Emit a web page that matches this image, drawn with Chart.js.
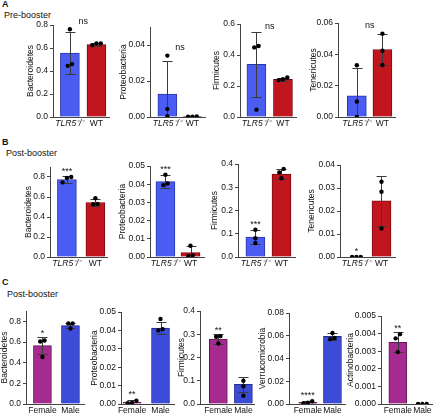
<!DOCTYPE html>
<html>
<head>
<meta charset="utf-8">
<script src="https://cdn.jsdelivr.net/npm/chart.js"></script>
<style>
body { margin:0; background:#fff; width:440px; height:415px; position:relative; overflow:hidden; font-family:"Liberation Sans", Arial, sans-serif; }
.txt { position:absolute; font-size:9px; color:#111; white-space:nowrap; }
.big { font-weight:bold; }
canvas { position:absolute; }
</style>
</head>
<body>
<div class="txt big" style="left:2px;top:-1px">A</div>
<div class="txt" style="left:4px;top:10px">Pre-booster</div>
<div class="txt big" style="left:2px;top:137px">B</div>
<div class="txt" style="left:6px;top:148px">Post-booster</div>
<div class="txt big" style="left:2px;top:277px">C</div>
<div class="txt" style="left:7px;top:289px">Post-booster</div>

<script>
// groups
var groupsAB = ['TLR5\u207B/\u207B', 'WT'];
var groupsC = ['Female', 'Male'];

// A - pre-booster
var rowA_taxa = ['Bacteroidetes', 'Proteobacteria', 'Firmicutes', 'Tenericutes'];
var rowA_means = [[0.555, 0.63], [0.0128, 0.0002], [0.34, 0.243], [0.0135, 0.0431]];
var rowA_sd = [[0.18, 0.01], [0.0185, 0.0002], [0.21, 0.01], [0.0175, 0.0100]];
var rowA_pts = [
    [[0.445, 0.763, 0.46], [0.64, 0.625, 0.64]],
    [[0.0341, 0.0044, 0.0004], [0.0003, 0.0002, 0.0002]],
    [[0.458, 0.449, 0.0475], [0.255, 0.238, 0.244]],
    [[0.033, 0.0099, 0.0], [0.0532, 0.0423, 0.0332]]
];
var rowA_max = [0.8, 0.05, 0.6, 0.06];
var rowA_step = [0.2, 0.02, 0.2, 0.02];
var rowA_sig = ['ns', 'ns', 'ns', 'ns'];

// B - post-booster
var rowB_taxa = ['Bacteroidetes', 'Proteobacteria', 'Firmicutes', 'Tenericutes'];
var rowB_means = [[0.775, 0.545], [0.0414, 0.0024], [0.0857, 0.357], [0, 0.0244]];
var rowB_sd = [[0.033, 0.035], [0.0036, 0.0035], [0.03, 0.02], [0, 0.011]];
var rowB_pts = [
    [[0.8, 0.79, 0.746], [0.588, 0.531, 0.528]],
    [[0.0452, 0.0404, 0.0395], [0.0062, 0.0009, 0.0004]],
    [[0.117, 0.081, 0.06], [0.379, 0.364, 0.339]],
    [[0, 0, 0], [0.0327, 0.0284, 0.0124]]
];
var rowB_max = [0.9, 0.05, 0.4, 0.04];
var rowB_step = [0.2, 0.01, 0.1, 0.01];
var rowB_sig = ['***', '***', '***', '*'];

// C - post-booster, female vs male
var rowC_taxa = ['Bacteroidetes', 'Proteobacteria', 'Firmicutes', 'Verrucomicrobia', 'Actinobacteria'];
var rowC_means = [[0.565, 0.758], [0.0011, 0.0413], [0.279, 0.085], [0.0015, 0.0594], [0.00351, 0]];
var rowC_sd = [[0.08, 0.025], [0.0011, 0.0031], [0.021, 0.033], [0.0012, 0.003], [0.00056, 0]];
var rowC_pts = [
    [[0.615, 0.605, 0.455], [0.78, 0.78, 0.73]],
    [[0.0018, 0.0007, 0.0004], [0.0462, 0.0407, 0.04]],
    [[0.289, 0.292, 0.26], [0.1, 0.076, 0.036]],
    [[0.0024, 0.0012, 0.0006], [0.0624, 0.058, 0.057]],
    [[0.00397, 0.00373, 0.00295], [0, 0, 0]]
];
var rowC_max = [0.9, 0.05, 0.4, 0.08, 0.005];
var rowC_step = [0.2, 0.01, 0.1, 0.02, 0.001];
var rowC_sig = ['*', '**', '**', '****', '**'];

// page layout of each panel (pixels)
var rowA_box = [
    {axis:53, c0:70.5, c1:98, right:111, top:25, titleX:31},
    {axis:150, c0:168, c1:194, right:207, top:27, titleX:124},
    {axis:240, c0:257, c1:284.5, right:298, top:24, titleX:217},
    {axis:338, c0:357.5, c1:384, right:397, top:23, titleX:314}
];
var rowB_box = [
    {axis:50, c0:67.5, c1:97, right:109, top:167, titleX:29},
    {axis:150, c0:166, c1:192, right:206, top:166, titleX:123},
    {axis:238, c0:256, c1:283, right:297, top:164, titleX:215},
    {axis:340, c0:357, c1:383, right:397, top:165, titleX:312}
];
var rowC_box = [
    {axis:26, c0:43, c1:72, right:86, top:311, titleX:5},
    {axis:121, c0:132.5, c1:162, right:176, top:312, titleX:95},
    {axis:200, c0:219, c1:245, right:256, top:311, titleX:182},
    {axis:289, c0:308.5, c1:334, right:347, top:313, titleX:263},
    {axis:381, c0:398.5, c1:424, right:434, top:316, titleX:351}
];

var FONT = '"Liberation Sans", Arial, sans-serif';
var AXIS = '#444';
var PAD_TOP = 14, X_H = 14, DOT = 2.2;

// error bars (mean +/- sd), drawn right after the bars
var errPlugin = {
    id: 'errbars',
    afterDatasetDraw: function(chart, args, o) {
        if (args.index !== 0) return;
        var xs = chart.scales.x, ys = chart.scales.y, ctx = chart.ctx, a = chart.chartArea;
        ctx.save();
        ctx.beginPath();
        ctx.rect(a.left, a.top - 3, a.right - a.left, a.bottom - a.top + 3);
        ctx.clip();
        ctx.strokeStyle = '#3a3a3a';
        ctx.lineWidth = 1;
        for (var i = 0; i < o.means.length; i++) {
            if (!o.sd[i]) continue;
            var x = Math.round(xs.getPixelForValue(i)) + 0.5;
            var hi = Math.round(ys.getPixelForValue(o.means[i] + o.sd[i])) + 0.5;
            var lo = Math.round(ys.getPixelForValue(o.means[i] - o.sd[i])) + 0.5;
            ctx.beginPath();
            ctx.moveTo(x, hi); ctx.lineTo(x, lo);
            ctx.moveTo(x - 5, hi); ctx.lineTo(x + 5, hi);
            ctx.moveTo(x - 5, lo); ctx.lineTo(x + 5, lo);
            ctx.stroke();
        }
        ctx.restore();
    }
};

// significance marks ("ns" between groups, stars over the first group)
var sigPlugin = {
    id: 'sig',
    afterDraw: function(chart, args, o) {
        if (!o.text) return;
        var xs = chart.scales.x, ys = chart.scales.y, ctx = chart.ctx;
        var ns = o.text === 'ns';
        var groups = ns ? [0, 1] : [0];
        var topPx = Infinity;
        groups.forEach(function(g) {
            topPx = Math.min(topPx, ys.getPixelForValue(o.means[g] + o.sd[g]));
            o.pts[g].forEach(function(v) { topPx = Math.min(topPx, ys.getPixelForValue(v) - DOT); });
        });
        var x = ns ? (xs.getPixelForValue(0) + xs.getPixelForValue(1)) / 2 : xs.getPixelForValue(0);
        ctx.save();
        ctx.fillStyle = '#111';
        ctx.font = '9px ' + FONT;
        ctx.textAlign = 'center';
        ctx.textBaseline = 'alphabetic';
        ctx.fillText(o.text, x, ns ? topPx - 3 : topPx - 1);
        ctx.restore();
    }
};

// spread dots that would overlap side by side
function swarm(vals, pxPerUnit, unitPx) {
    var idx = vals.map(function(v, i) { return i; }).sort(function(a, b) { return vals[a] - vals[b]; });
    var out = vals.map(function() { return 0; });
    var k = 0;
    while (k < idx.length) {
        var run = [idx[k]];
        while (k + run.length < idx.length &&
               (vals[idx[k + run.length]] - vals[run[run.length - 1]]) * pxPerUnit < 4.5) {
            run.push(idx[k + run.length]);
        }
        for (var j = 0; j < run.length; j++) out[run[j]] = (j - (run.length - 1) / 2) * 4.5 / unitPx;
        k += run.length;
    }
    return out;
}

function decimals(step) {
    return Math.max(0, -Math.floor(Math.log10(step) + 1e-9));
}

function makePanel(box, y0, title, groups, italic, means, sd, pts, max, step, sig, colors, borders, barW) {
    var left = Math.max(0, Math.round(box.titleX - 5));
    var yW = box.axis - left;
    var unit = box.c1 - box.c0;
    var xmin = -(box.c0 - box.axis) / unit;
    var xmax = 1 + (box.right - box.c1) / unit;
    var pxPerUnit = (y0 - box.top) / max;
    var dec = decimals(step);

    var cv = document.createElement('canvas');
    cv.width = box.right - left + 2;
    cv.height = y0 - box.top + PAD_TOP + X_H;
    cv.style.left = left + 'px';
    cv.style.top = (box.top - PAD_TOP) + 'px';
    document.body.appendChild(cv);

    var dots = [];
    for (var g = 0; g < 2; g++) {
        var off = swarm(pts[g], pxPerUnit, unit);
        for (var i = 0; i < pts[g].length; i++) dots.push({x: g + off[i], y: pts[g][i]});
    }

    new Chart(cv, {
        type: 'bar',
        data: {
            datasets: [
                {
                    type: 'bar',
                    data: means.map(function(m, i) { return {x: i, y: m}; }),
                    backgroundColor: colors,
                    borderColor: borders,
                    borderWidth: 1,
                    barThickness: barW,
                    order: 2
                },
                {
                    type: 'scatter',
                    data: dots,
                    pointRadius: DOT,
                    pointBackgroundColor: '#000',
                    pointBorderWidth: 0,
                    order: 1
                }
            ]
        },
        options: {
            responsive: false,
            animation: false,
            devicePixelRatio: 1,
            layout: { padding: { top: PAD_TOP, right: 2, left: 0, bottom: 0 } },
            plugins: {
                legend: { display: false },
                tooltip: { enabled: false },
                errbars: { means: means, sd: sd },
                sig: { text: sig, means: means, sd: sd, pts: pts }
            },
            scales: {
                x: {
                    type: 'linear',
                    offset: false,
                    min: xmin,
                    max: xmax,
                    afterBuildTicks: function(s) { s.ticks = [{value: 0}, {value: 1}]; },
                    afterFit: function(s) { s.height = X_H; },
                    grid: { display: true, offset: false, drawOnChartArea: false, drawTicks: false },
                    border: { color: AXIS, width: 1 },
                    ticks: {
                        autoSkip: false, maxRotation: 0, minRotation: 0, padding: 2, color: '#111',
                        font: function(c) {
                            return { size: 8.5, family: FONT, style: (italic && c.index === 0) ? 'italic' : 'normal' };
                        },
                        callback: function(v) { return groups[v]; }
                    }
                },
                y: {
                    min: 0,
                    max: max,
                    afterFit: function(s) { s.width = yW; },
                    grid: { display: true, drawOnChartArea: false, drawTicks: true, tickLength: 3, color: AXIS },
                    border: { color: AXIS, width: 1 },
                    title: { display: true, text: title, color: '#111', padding: 0, font: { size: 8.5, family: FONT } },
                    ticks: {
                        stepSize: step, includeBounds: false, padding: 2, color: '#111',
                        font: { size: 8.5, family: FONT },
                        callback: function(v) { return v.toFixed(dec); }
                    }
                }
            }
        },
        plugins: [errPlugin, sigPlugin]
    });
}

var colAB = ['#4a5cf2', '#c1161e'], edgeAB = ['#2b36a8', '#7a0a10'];
var colC = ['#a62b90', '#3d4bd9'], edgeC = ['#5e1650', '#222a8a'];

for (var p = 0; p < 4; p++) {
    makePanel(rowA_box[p], 117, rowA_taxa[p], groupsAB, true, rowA_means[p], rowA_sd[p], rowA_pts[p],
              rowA_max[p], rowA_step[p], rowA_sig[p], colAB, edgeAB, 19);
    makePanel(rowB_box[p], 257, rowB_taxa[p], groupsAB, true, rowB_means[p], rowB_sd[p], rowB_pts[p],
              rowB_max[p], rowB_step[p], rowB_sig[p], colAB, edgeAB, 19);
}
for (var q = 0; q < 5; q++) {
    makePanel(rowC_box[q], 404, rowC_taxa[q], groupsC, false, rowC_means[q], rowC_sd[q], rowC_pts[q],
              rowC_max[q], rowC_step[q], rowC_sig[q], colC, edgeC, 18);
}
</script>
</body>
</html>
